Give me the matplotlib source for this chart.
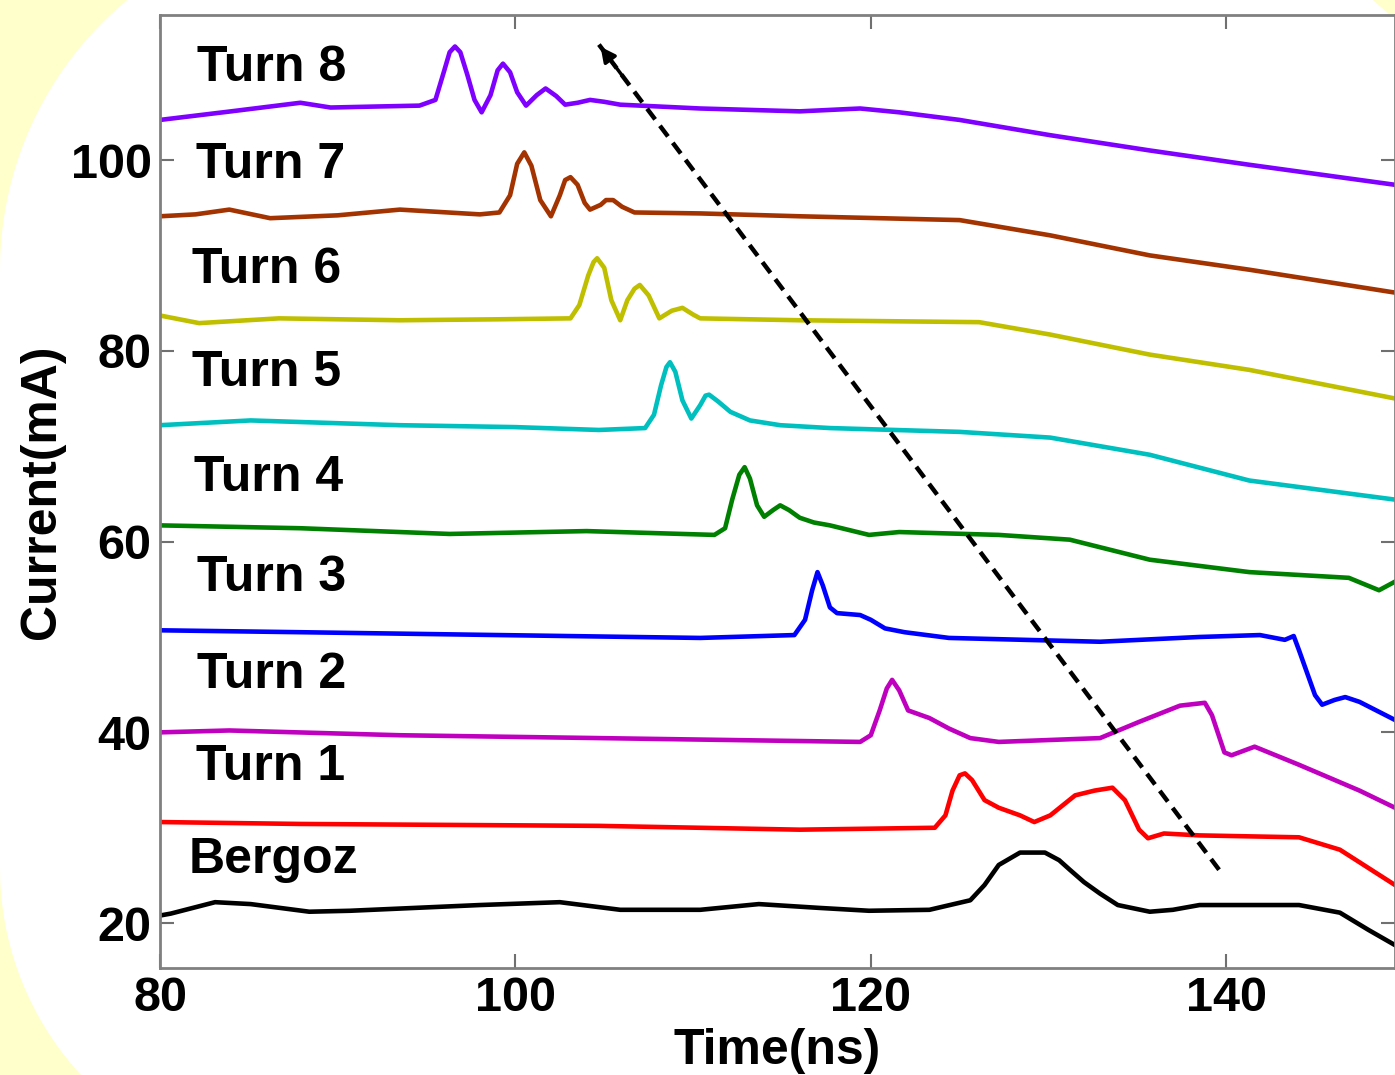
import numpy as np
import matplotlib
matplotlib.use("Agg")
import matplotlib.pyplot as plt
from matplotlib.path import Path
from matplotlib.patches import PathPatch

plt.rcParams["font.family"] = ["Liberation Sans", "DejaVu Sans"]
plt.rcParams["font.weight"] = "bold"

# ---- data (time in ns, current in mA) ----
t8 = [80.0, 84.0, 87.9, 89.6, 92.0, 94.6, 95.5, 96.0, 96.3, 96.6, 96.9, 97.3, 97.7, 98.1, 98.6,
      99.0, 99.3, 99.7, 100.1, 100.6, 101.2, 101.7, 102.3, 102.8, 103.5, 104.2, 105.0, 105.9,
      110.4, 116.0, 119.4, 121.6, 125.0, 130.1, 135.7, 141.3, 149.5]
i8 = [104.2, 105.1, 106.0, 105.5, 105.6, 105.7, 106.3, 109.4, 111.3, 111.9, 111.3, 108.9, 106.3, 105.0, 106.8,
      109.4, 110.1, 109.2, 107.1, 105.7, 106.8, 107.5, 106.7, 105.8, 106.0, 106.3, 106.1, 105.8,
      105.4, 105.1, 105.4, 105.0, 104.2, 102.6, 101.0, 99.5, 97.4]

t7 = [80.0, 82.0, 83.9, 86.2, 90.0, 93.5, 98.0, 99.1, 99.7, 100.1, 100.5, 100.9, 101.4, 102.0, 102.5,
      102.8, 103.1, 103.5, 103.9, 104.2, 104.8, 105.1, 105.5, 106.0, 106.7, 110.4, 116.0, 125.0,
      130.1, 135.7, 141.3, 149.5]
i7 = [94.1, 94.3, 94.8, 93.9, 94.2, 94.8, 94.3, 94.5, 96.3, 99.6, 100.8, 99.4, 95.8, 94.1, 96.3,
      97.9, 98.2, 97.4, 95.5, 94.8, 95.3, 95.8, 95.8, 95.1, 94.5, 94.4, 94.1, 93.7,
      92.1, 90.0, 88.5, 86.1]

t6 = [80.0, 82.2, 86.7, 93.5, 99.0, 103.1, 103.6, 104.1, 104.4, 104.6, 105.0, 105.4, 105.9, 106.3,
      106.7, 107.0, 107.5, 108.1, 108.8, 109.4, 110.0, 110.4, 116.0, 126.1, 130.1, 135.7, 141.3, 149.5]
i6 = [83.7, 82.9, 83.4, 83.2, 83.3, 83.4, 84.8, 87.9, 89.3, 89.7, 88.7, 85.3, 83.2, 85.3,
      86.5, 86.9, 85.8, 83.4, 84.2, 84.5, 83.8, 83.4, 83.2, 83.0, 81.7, 79.6, 78.0, 75.0]

t5 = [80.0, 85.1, 93.5, 100.0, 104.7, 107.3, 107.8, 108.2, 108.5, 108.7, 109.0, 109.4, 109.9, 110.4,
      110.7, 110.9, 111.4, 112.1, 113.2, 114.9, 117.7, 125.0, 130.1, 135.7, 141.3, 149.5]
i5 = [72.2, 72.7, 72.2, 72.0, 71.7, 71.9, 73.3, 76.4, 78.3, 78.8, 77.8, 74.8, 72.9, 74.3,
      75.3, 75.4, 74.7, 73.6, 72.7, 72.2, 71.9, 71.5, 70.9, 69.1, 66.4, 64.4]

t4 = [80.0, 87.9, 96.3, 104.0, 111.2, 111.8, 112.2, 112.6, 112.9, 113.2, 113.6, 114.0, 114.5, 114.9,
      115.4, 116.0, 116.8, 117.7, 118.8, 119.9, 121.6, 127.2, 131.2, 135.7, 141.3, 146.9, 148.6, 149.5]
i4 = [61.7, 61.4, 60.8, 61.1, 60.7, 61.4, 64.4, 67.0, 67.8, 66.6, 63.8, 62.6, 63.3, 63.8,
      63.3, 62.5, 62.0, 61.7, 61.2, 60.7, 61.0, 60.7, 60.2, 58.1, 56.8, 56.2, 54.9, 55.8]

t3 = [80.0, 87.9, 99.1, 110.4, 115.7, 116.3, 116.7, 117.0, 117.3, 117.7, 118.1, 119.4, 120.0, 120.8,
      121.9, 124.4, 132.9, 138.5, 141.9, 143.3, 143.8, 144.1, 145.0, 145.4, 146.1, 146.7, 147.5, 149.5]
i3 = [50.7, 50.5, 50.2, 49.9, 50.2, 51.8, 54.9, 56.8, 55.4, 53.1, 52.5, 52.3, 51.8, 50.9,
      50.5, 49.9, 49.5, 50.0, 50.2, 49.7, 50.1, 48.6, 43.9, 42.9, 43.4, 43.7, 43.2, 41.3]

t2 = [80.0, 83.9, 93.5, 104.7, 119.4, 120.0, 120.5, 120.9, 121.2, 121.6, 122.1, 123.3, 124.4, 125.6,
      127.2, 132.9, 135.1, 137.4, 138.8, 139.2, 139.9, 140.3, 141.6, 144.1, 147.5, 149.5]
i2 = [40.0, 40.2, 39.7, 39.4, 39.0, 39.7, 42.3, 44.6, 45.5, 44.4, 42.3, 41.5, 40.4, 39.4,
      39.0, 39.4, 41.1, 42.8, 43.1, 41.8, 37.9, 37.6, 38.5, 36.6, 33.9, 32.1]

t1 = [80.0, 87.9, 104.7, 116.0, 123.6, 124.2, 124.6, 125.0, 125.3, 125.7, 126.4, 127.2, 128.4, 129.2,
      130.1, 131.5, 132.6, 133.6, 134.3, 135.1, 135.6, 136.5, 138.5, 144.1, 146.4, 149.5]
i1 = [30.6, 30.4, 30.2, 29.8, 30.0, 31.3, 33.9, 35.5, 35.7, 35.0, 32.9, 32.1, 31.3, 30.6,
      31.3, 33.4, 33.9, 34.2, 32.9, 29.8, 28.9, 29.4, 29.2, 29.0, 27.7, 24.0]

tb = [80.0, 80.6, 83.1, 85.1, 88.4, 90.7, 98.0, 102.5, 105.9, 110.4, 113.7, 117.1, 119.9, 123.3,
      125.6, 126.4, 127.2, 128.4, 129.8, 130.6, 131.2, 132.0, 132.9, 133.9, 135.7, 137.0, 138.5,
      144.1, 146.4, 148.0, 149.5]
ib = [20.8, 21.0, 22.2, 22.0, 21.2, 21.3, 21.9, 22.2, 21.4, 21.4, 22.0, 21.6, 21.3, 21.4,
      22.4, 24.0, 26.1, 27.4, 27.4, 26.6, 25.6, 24.3, 23.1, 21.9, 21.2, 21.4, 21.9,
      21.9, 21.1, 19.3, 17.7]

series = [(tb, ib), (t1, i1), (t2, i2), (t3, i3), (t4, i4), (t5, i5), (t6, i6), (t7, i7), (t8, i8)]
colors = ["#000000", "#FF0000", "#BF00BF", "#0000FF", "#008000", "#00BFBF", "#BFBF00", "#A33300", "#7F00FF"]
labels = ["Bergoz", "Turn 1", "Turn 2", "Turn 3", "Turn 4", "Turn 5", "Turn 6", "Turn 7", "Turn 8"]
label_x = [81.6, 82.0, 82.1, 82.1, 81.9, 81.8, 81.8, 82.0, 82.1]
label_y = [26.6, 36.4, 46.0, 56.2, 66.7, 77.7, 88.5, 99.5, 109.6]

arrow_tail = (139.6, 25.6)
arrow_head = (104.7, 112.1)

W, H = 1395, 1075
fig = plt.figure(figsize=(W / 100, H / 100), dpi=100)
fig.patch.set_facecolor("#FFFFCC")


def _corner(cx, cy, r, a0, a1, n=40):
    a = np.linspace(np.radians(a0), np.radians(a1), n)
    return np.column_stack([cx + r * np.cos(a), cy + r * np.sin(a)])


# white rounded panel behind the chart (pixel coords, y measured from the bottom)
pts = np.vstack([
    _corner(350, H - 270, 350, 180, 90),        # top-left
    _corner(1150, H - 270, 350, 90, 0),         # top-right
    _corner(1150, H - 823, 350, 0, -90),        # bottom-right
    _corner(305, H - 868, 305, -90, -180),      # bottom-left
])
pts = np.vstack([pts, pts[:1]])
codes = [Path.MOVETO] + [Path.LINETO] * (len(pts) - 2) + [Path.CLOSEPOLY]
panel = PathPatch(Path(pts / [W, H], codes), transform=fig.transFigure, fc="white", ec="none", zorder=-5)
fig.patches.append(panel)

ax = fig.add_axes([160 / W, 1 - 968 / H, (W - 160) / W, (968 - 15) / H])
ax.set_facecolor("white")

for (t, i), c in zip(series, colors):
    ax.plot(t, i, color=c, linewidth=3.3, solid_joinstyle="round")

for lab, lx, ly in zip(labels, label_x, label_y):
    ax.text(lx, ly, lab, fontsize=36, fontweight="bold", ha="left", va="center")

# dashed trend arrow
ax.plot([arrow_tail[0], arrow_head[0]], [arrow_tail[1], arrow_head[1]],
        color="black", linestyle=(0, (3.0, 1.8)), linewidth=3.2)
ax.annotate("", xy=arrow_head,
            xytext=(arrow_head[0] + 0.04 * (arrow_tail[0] - arrow_head[0]),
                    arrow_head[1] + 0.04 * (arrow_tail[1] - arrow_head[1])),
            arrowprops=dict(arrowstyle="-|>", color="black", lw=2.5, mutation_scale=22))

ax.set_xlim(80, 149.5)
ax.set_ylim(15.3, 115.2)
ax.set_xticks([80, 100, 120, 140])
ax.set_yticks([20, 40, 60, 80, 100])
ax.tick_params(direction="in", length=10, width=1.5, color="#707070",
               labelsize=35, pad=6, top=True, right=True)
for lbl in ax.get_xticklabels() + ax.get_yticklabels():
    lbl.set_fontweight("bold")
for sp in ax.spines.values():
    sp.set_color("#808080")
    sp.set_linewidth(2)

ax.set_xlabel("Time(ns)", fontsize=36, fontweight="bold", labelpad=5)
ax.set_ylabel("Current(mA)", fontsize=36, fontweight="bold", labelpad=4)

fig.savefig("out.png", dpi=100, facecolor=fig.get_facecolor())
